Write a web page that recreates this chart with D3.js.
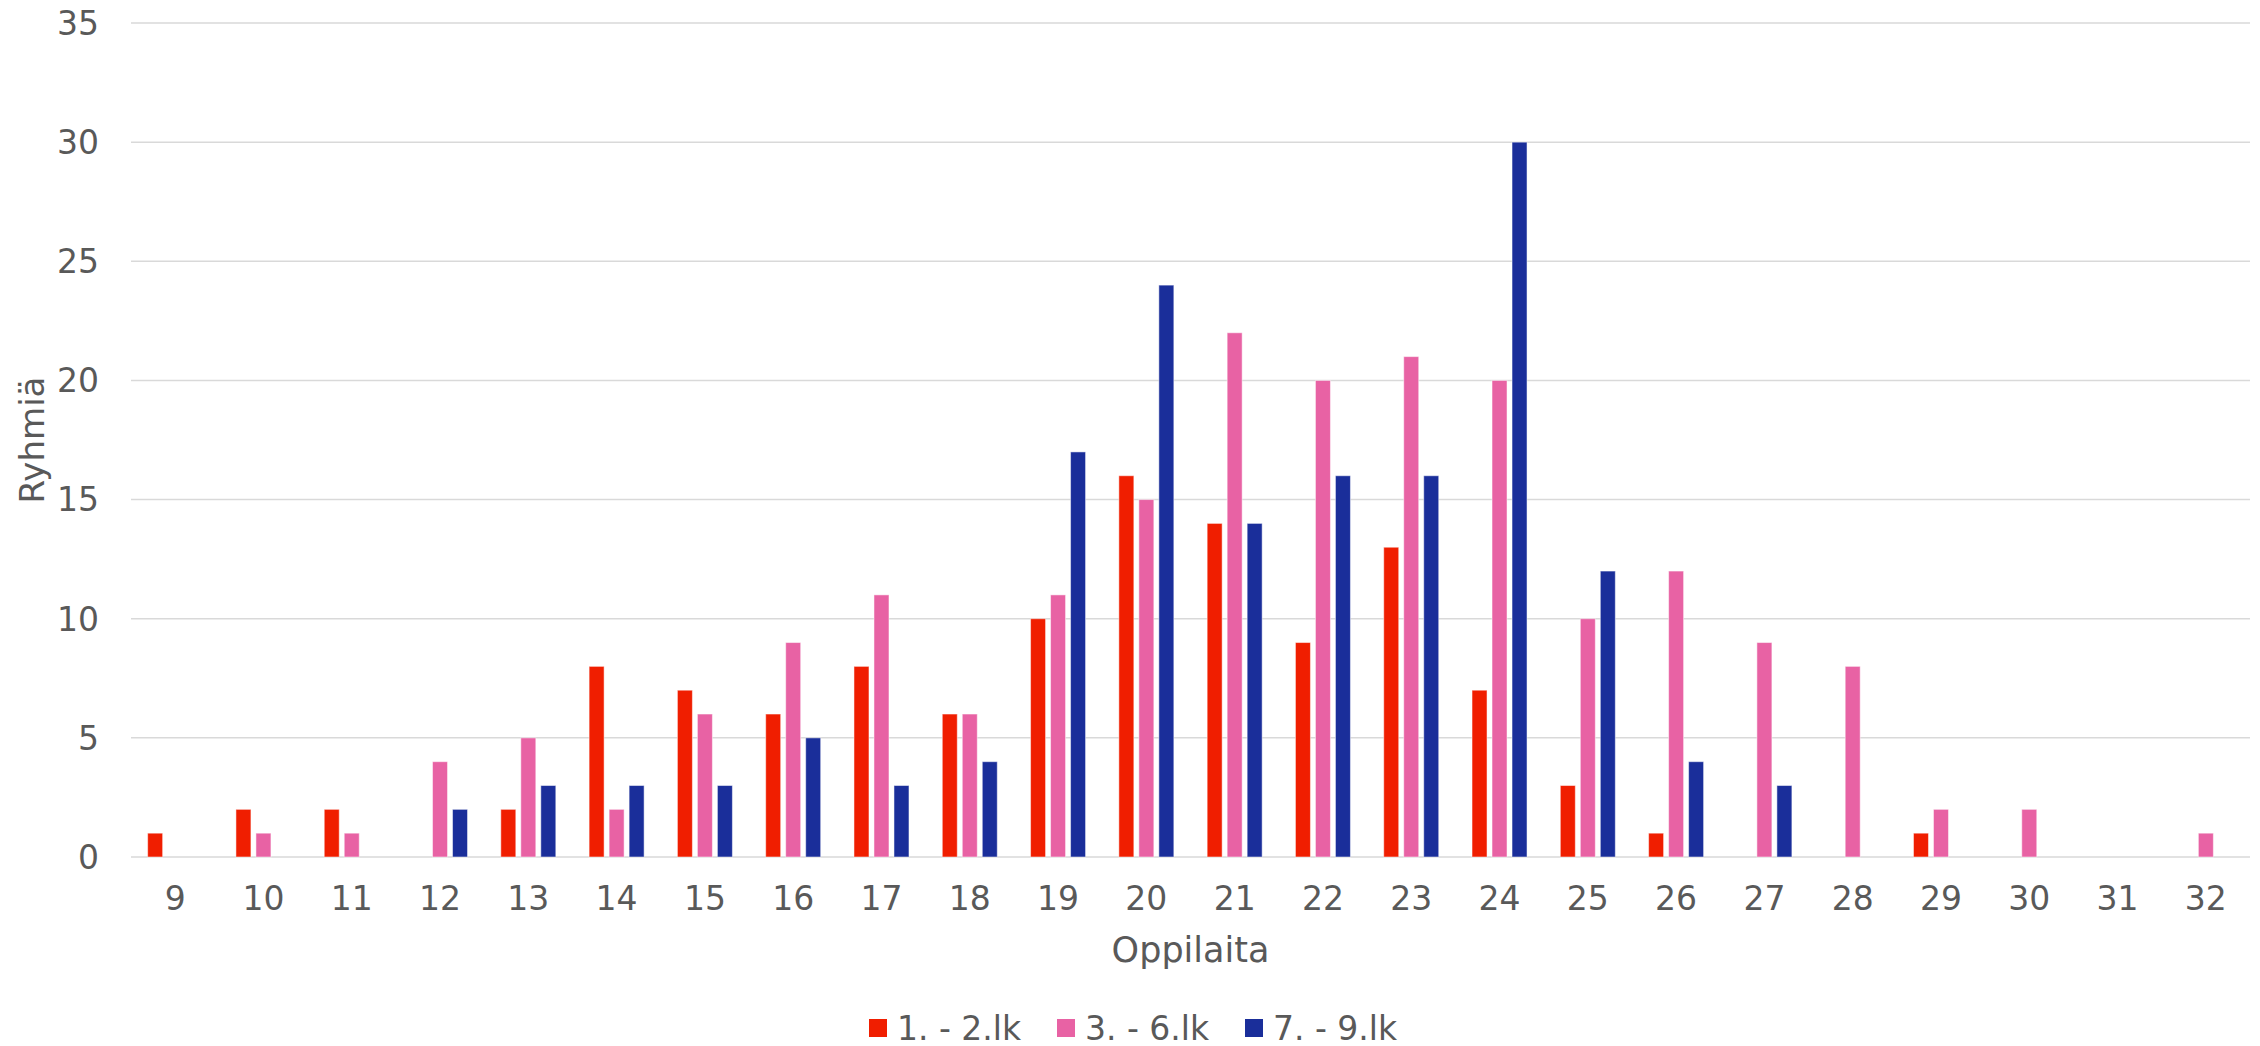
<!DOCTYPE html>
<html>
<head>
<meta charset="utf-8">
<script src="https://cdn.jsdelivr.net/npm/d3@7"></script>
<style>
  body { margin: 0; background: #fff; }
  text { font-family: "DejaVu Sans", Verdana, sans-serif; fill: #595959; }
</style>
</head>
<body>
<svg id="chart" width="2260" height="1046"></svg>
<script>
var categories = ['9','10','11','12','13','14','15','16','17','18','19','20',
                  '21','22','23','24','25','26','27','28','29','30','31','32'];
var seriesNames = ['1. - 2.lk', '3. - 6.lk', '7. - 9.lk'];
var grade1to2 = [1,2,2,0,2,8,7,6,8,6,10,16,14,9,13,7,3,1,0,0,1,0,0,0];
var grade3to6 = [0,1,1,4,5,2,6,9,11,6,11,15,22,20,21,20,10,12,9,8,2,2,0,1];
var grade7to9 = [0,0,0,2,3,3,3,5,3,4,17,24,14,16,16,30,12,4,3,0,0,0,0,0];
var yTicks = [0,5,10,15,20,25,30,35];
var colors = ['#F01E00', '#E862A4', '#1A2E9A'];

var svg = d3.select('#chart');
// plot area edges (window.top is reserved, so no "top" here)
var plotL = 131, plotR = 2250, plotT = 23, plotB = 857;

var x0 = d3.scaleBand().domain(categories).range([plotL, plotR]);
var x1 = d3.scaleBand().domain(seriesNames)
  .range([x0.bandwidth() / 2 - 27.5, x0.bandwidth() / 2 + 27.5])
  .paddingInner(0.25);
var y = d3.scaleLinear().domain([0, 35]).range([plotB, plotT]);

// gridlines
svg.append('g').selectAll('line').data(yTicks).enter().append('line')
  .attr('x1', plotL).attr('x2', plotR)
  .attr('y1', function(d) { return y(d); })
  .attr('y2', function(d) { return y(d); })
  .attr('stroke', '#d9d9d9')
  .attr('stroke-width', 1.5);

// y tick labels
svg.append('g').selectAll('text').data(yTicks).enter().append('text')
  .attr('x', 99)
  .attr('y', function(d) { return y(d); })
  .attr('dy', '0.36em')
  .attr('text-anchor', 'end')
  .style('font-size', '33px')
  .text(function(d) { return d; });

// bars
var rows = categories.map(function(c, i) {
  return { cat: c, values: [grade1to2[i], grade3to6[i], grade7to9[i]] };
});

var groups = svg.append('g').selectAll('g').data(rows).enter().append('g')
  .attr('transform', function(d) { return 'translate(' + x0(d.cat) + ',0)'; });

groups.selectAll('rect')
  .data(function(d) {
    return d.values.map(function(v, k) { return { name: seriesNames[k], value: v, k: k }; })
      .filter(function(e) { return e.value > 0; });
  })
  .enter().append('rect')
  .attr('x', function(d) { return x1(d.name); })
  .attr('width', x1.bandwidth())
  .attr('y', function(d) { return y(d.value); })
  .attr('height', function(d) { return plotB - y(d.value); })
  .attr('fill', function(d) { return colors[d.k]; })
  .attr('stroke', 'rgba(255,255,255,0.5)')
  .attr('stroke-width', 1);

// x tick labels
svg.append('g').selectAll('text').data(categories).enter().append('text')
  .attr('x', function(d) { return x0(d) + x0.bandwidth() / 2; })
  .attr('y', 910)
  .attr('text-anchor', 'middle')
  .style('font-size', '33px')
  .text(function(d) { return d; });

// axis titles
svg.append('text')
  .attr('x', (plotL + plotR) / 2)
  .attr('y', 962)
  .attr('text-anchor', 'middle')
  .style('font-size', '35px')
  .text('Oppilaita');

svg.append('text')
  .attr('transform', 'translate(44,' + (plotT + plotB) / 2 + ') rotate(-90)')
  .attr('text-anchor', 'middle')
  .style('font-size', '34px')
  .text('Ryhmiä');

// legend
var legend = svg.append('g').selectAll('g').data(seriesNames).enter().append('g')
  .attr('transform', function(d, i) { return 'translate(' + (869 + i * 188) + ',1019)'; });

legend.append('rect')
  .attr('width', 18).attr('height', 18)
  .attr('fill', function(d, i) { return colors[i]; });

legend.append('text')
  .attr('x', 28)
  .attr('y', 9)
  .attr('dy', '0.36em')
  .style('font-size', '33px')
  .text(function(d) { return d; });
</script>
</body>
</html>
